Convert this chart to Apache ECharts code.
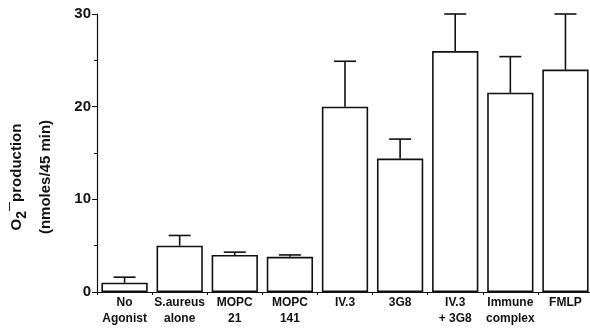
<!DOCTYPE html>
<html>
<head>
<meta charset="utf-8">
<script src="https://cdn.jsdelivr.net/npm/echarts@6/dist/echarts.min.js"></script>
<style>
    html, body { margin: 0; padding: 0; background: #fff; }
    #chart { width: 590px; height: 330px; }
</style>
</head>
<body>
<div id="chart"></div>
<script>
    // categories and values
    var categories = ['No\nAgonist', 'S.aureus\nalone', 'MOPC\n21', 'MOPC\n141', 'IV.3', '3G8', 'IV.3\n+ 3G8', 'Immune\ncomplex', 'FMLP'];
    var means = [1.0, 5.0, 4.0, 3.8, 20.0, 14.4, 26.0, 21.5, 24.0];
    var upper = [1.6, 6.1, 4.3, 4.0, 24.9, 16.5, 30.0, 25.4, 30.0];
    var yTicks = [0, 10, 20, 30];

    var myChart = echarts.init(document.getElementById('chart'));
    var font = 'Liberation Sans, Arial, sans-serif';

    var option = {
        animation: false,
        grid: { left: 97, right: -3, top: 14, bottom: 38, outerBoundsMode: 'none' },
        graphic: [
            {
                type: 'text',
                x: 31, y: 177,
                rotation: Math.PI / 2,
                style: {
                    text: '{a|O}{sub|2}{sup|\u2014}{a|production}\n{a|(nmoles/45 min)}',
                    align: 'center',
                    verticalAlign: 'middle',
                    lineHeight: 29,
                    fill: '#111',
                    rich: {
                        a: { fontFamily: font, fontWeight: 'bold', fontSize: 15, fill: '#111', lineHeight: 29 },
                        sub: { fontFamily: font, fontWeight: 'bold', fontSize: 14, fill: '#111', padding: [12, 0, 0, 0] },
                        sup: { fontFamily: font, fontWeight: 'bold', fontSize: 9, fill: '#111', padding: [0, 0, 14, 0] }
                    }
                }
            }
        ],
        xAxis: {
            type: 'category',
            data: categories,
            axisLine: { lineStyle: { color: '#111', width: 1.2 } },
            axisTick: { show: true, length: 3, lineStyle: { color: '#111' } },
            axisLabel: {
                color: '#111', fontFamily: font, fontWeight: 'bold', fontSize: 12,
                lineHeight: 16, margin: 3, interval: 0
            }
        },
        yAxis: {
            type: 'value',
            min: 0, max: 30, interval: 10,
            splitLine: { show: false },
            axisLine: { show: true, lineStyle: { color: '#111', width: 1.2 } },
            axisTick: { show: true, inside: false, length: 5, lineStyle: { color: '#111' } },
            minorTick: { show: true, splitNumber: 2, length: 3, lineStyle: { color: '#111' } },
            axisLabel: {
                color: '#111', fontFamily: font, fontWeight: 'bold', fontSize: 15, margin: 6,
                formatter: function (v) { return yTicks.indexOf(v) >= 0 ? String(v) : ''; }
            }
        },
        series: [
            {
                type: 'bar',
                data: means,
                barCategoryGap: '16%',
                itemStyle: { color: '#fff', borderColor: '#111', borderWidth: 1.6 }
            },
            {
                type: 'custom',
                data: upper.map(function (u, i) { return [i, means[i], u]; }),
                renderItem: function (params, api) {
                    var top = api.coord([api.value(0), api.value(2)]);
                    var base = api.coord([api.value(0), api.value(1)]);
                    var half = 11;
                    return {
                        type: 'group',
                        children: [
                            { type: 'line', shape: { x1: base[0], y1: base[1], x2: top[0], y2: top[1] },
                              style: { stroke: '#111', lineWidth: 1.6 } },
                            { type: 'line', shape: { x1: top[0] - half, y1: top[1], x2: top[0] + half, y2: top[1] },
                              style: { stroke: '#111', lineWidth: 1.6 } }
                        ]
                    };
                },
                z: 3
            }
        ]
    };
    myChart.setOption(option);
</script>
</body>
</html>
